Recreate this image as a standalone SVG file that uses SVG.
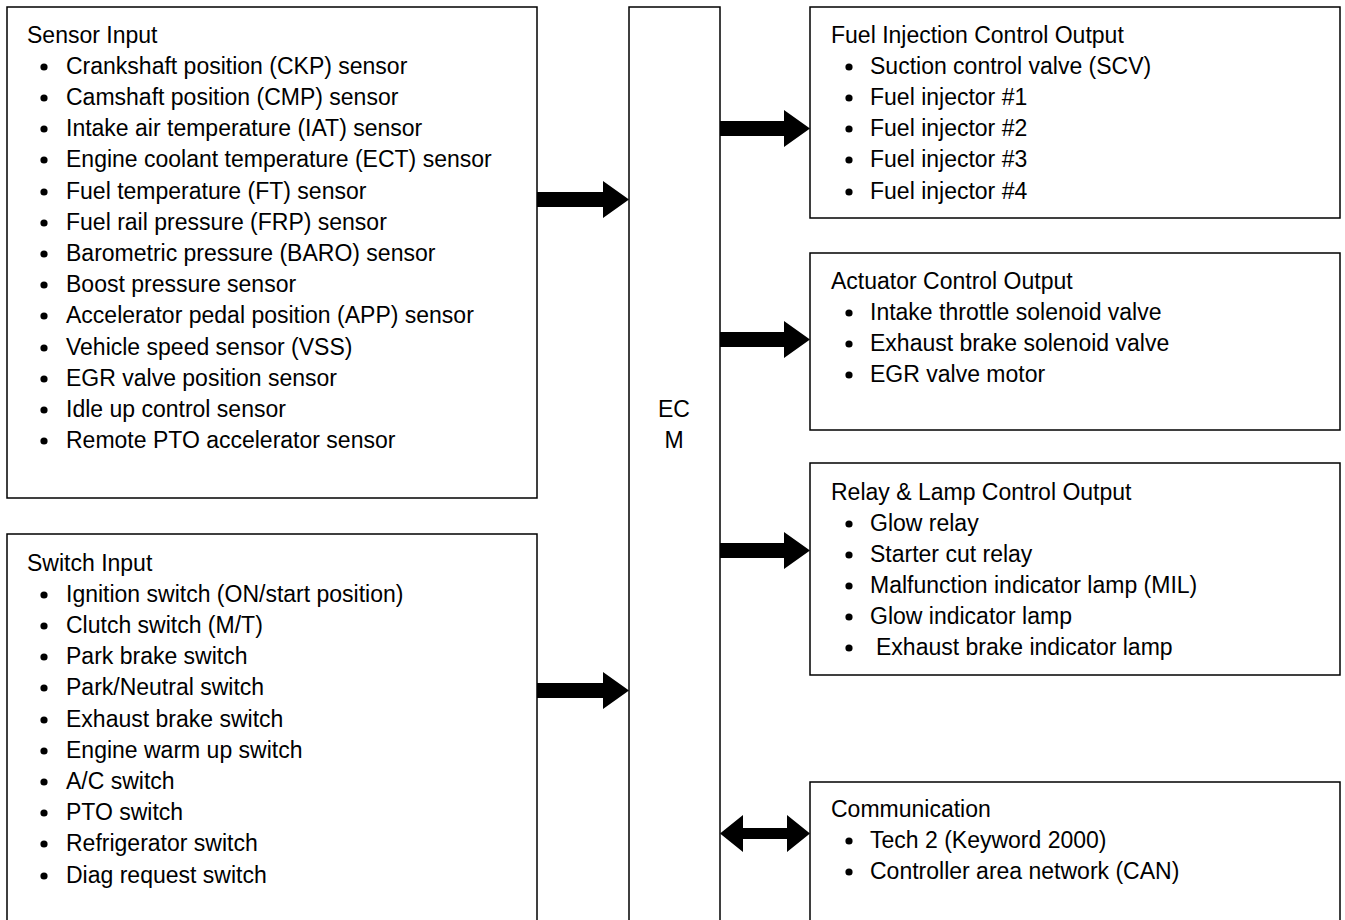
<svg xmlns="http://www.w3.org/2000/svg" width="1345" height="920" viewBox="0 0 1345 920">
<style>
.box{fill:#fff;stroke:#000;stroke-width:1.5}
text{font-family:"Liberation Sans",Arial,sans-serif;font-size:23px;fill:#000}
.b{fill:#000}
</style>
<defs>
<circle id="dot" r="3.6" class="b"/>
</defs>
<rect width="1345" height="920" fill="#fff"/>
<g id="sensor">
<rect class="box" x="7" y="7" width="530" height="491"/>
<text x="27" y="43">Sensor Input</text>
<g>
<use href="#dot" x="44" y="67"/><text x="66" y="74">Crankshaft position (CKP) sensor</text>
<use href="#dot" x="44" y="98"/><text x="66" y="105">Camshaft position (CMP) sensor</text>
<use href="#dot" x="44" y="129"/><text x="66" y="136">Intake air temperature (IAT) sensor</text>
<use href="#dot" x="44" y="160"/><text x="66" y="167">Engine coolant temperature (ECT) sensor</text>
<use href="#dot" x="44" y="192"/><text x="66" y="199">Fuel temperature (FT) sensor</text>
<use href="#dot" x="44" y="223"/><text x="66" y="230">Fuel rail pressure (FRP) sensor</text>
<use href="#dot" x="44" y="254"/><text x="66" y="261">Barometric pressure (BARO) sensor</text>
<use href="#dot" x="44" y="285"/><text x="66" y="292">Boost pressure sensor</text>
<use href="#dot" x="44" y="316"/><text x="66" y="323">Accelerator pedal position (APP) sensor</text>
<use href="#dot" x="44" y="348"/><text x="66" y="355">Vehicle speed sensor (VSS)</text>
<use href="#dot" x="44" y="379"/><text x="66" y="386">EGR valve position sensor</text>
<use href="#dot" x="44" y="410"/><text x="66" y="417">Idle up control sensor</text>
<use href="#dot" x="44" y="441"/><text x="66" y="448">Remote PTO accelerator sensor</text>
</g>
</g>
<g id="switch">
<rect class="box" x="7" y="534" width="530" height="400"/>
<text x="27" y="571">Switch Input</text>
<use href="#dot" x="44" y="595"/><text x="66" y="602">Ignition switch (ON/start position)</text>
<use href="#dot" x="44" y="626"/><text x="66" y="633">Clutch switch (M/T)</text>
<use href="#dot" x="44" y="657"/><text x="66" y="664">Park brake switch</text>
<use href="#dot" x="44" y="688"/><text x="66" y="695">Park/Neutral switch</text>
<use href="#dot" x="44" y="720"/><text x="66" y="727">Exhaust brake switch</text>
<use href="#dot" x="44" y="751"/><text x="66" y="758">Engine warm up switch</text>
<use href="#dot" x="44" y="782"/><text x="66" y="789">A/C switch</text>
<use href="#dot" x="44" y="813"/><text x="66" y="820">PTO switch</text>
<use href="#dot" x="44" y="844"/><text x="66" y="851">Refrigerator switch</text>
<use href="#dot" x="44" y="876"/><text x="66" y="883">Diag request switch</text>
</g>
<g id="ecm">
<rect class="box" x="629" y="7" width="91" height="930"/>
<text x="674" y="417" text-anchor="middle">EC</text>
<text x="674" y="448" text-anchor="middle">M</text>
</g>
<g id="fuel">
<rect class="box" x="810" y="7" width="530" height="211"/>
<text x="831" y="43">Fuel Injection Control Output</text>
<use href="#dot" x="849" y="67"/><text x="870" y="74">Suction control valve (SCV)</text>
<use href="#dot" x="849" y="98"/><text x="870" y="105">Fuel injector #1</text>
<use href="#dot" x="849" y="129"/><text x="870" y="136">Fuel injector #2</text>
<use href="#dot" x="849" y="160"/><text x="870" y="167">Fuel injector #3</text>
<use href="#dot" x="849" y="192"/><text x="870" y="199">Fuel injector #4</text>
</g>
<g id="actuator">
<rect class="box" x="810" y="253" width="530" height="177"/>
<text x="831" y="289">Actuator Control Output</text>
<use href="#dot" x="849" y="313"/><text x="870" y="320">Intake throttle solenoid valve</text>
<use href="#dot" x="849" y="344"/><text x="870" y="351">Exhaust brake solenoid valve</text>
<use href="#dot" x="849" y="375"/><text x="870" y="382">EGR valve motor</text>
</g>
<g id="relay">
<rect class="box" x="810" y="463" width="530" height="212"/>
<text x="831" y="500">Relay &amp; Lamp Control Output</text>
<use href="#dot" x="849" y="524"/><text x="870" y="531">Glow relay</text>
<use href="#dot" x="849" y="555"/><text x="870" y="562">Starter cut relay</text>
<use href="#dot" x="849" y="586"/><text x="870" y="593">Malfunction indicator lamp (MIL)</text>
<use href="#dot" x="849" y="617"/><text x="870" y="624">Glow indicator lamp</text>
<use href="#dot" x="849" y="648"/><text x="876" y="655">Exhaust brake indicator lamp</text>
</g>
<g id="comm">
<rect class="box" x="810" y="782" width="530" height="160"/>
<text x="831" y="817">Communication</text>
<use href="#dot" x="849" y="841"/><text x="870" y="848">Tech 2 (Keyword 2000)</text>
<use href="#dot" x="849" y="872"/><text x="870" y="879">Controller area network (CAN)</text>
</g>
<g id="connectors" class="b">
<polygon points="537,192 603,192 603,181 629,199.5 603,218 603,207 537,207"/>
<polygon points="537,683 603,683 603,672 629,690.5 603,709 603,698 537,698"/>
<polygon points="720,121 784,121 784,110 810,128.5 784,147 784,136 720,136"/>
<polygon points="720,332 784,332 784,321 810,339.5 784,358 784,347 720,347"/>
<polygon points="720,543 784,543 784,532 810,550.5 784,569 784,558 720,558"/>
<polygon points="720,833.5 743,815 743,828 787,828 787,815 810,833.5 787,852 787,839 743,839 743,852"/>
</g>
</svg>
